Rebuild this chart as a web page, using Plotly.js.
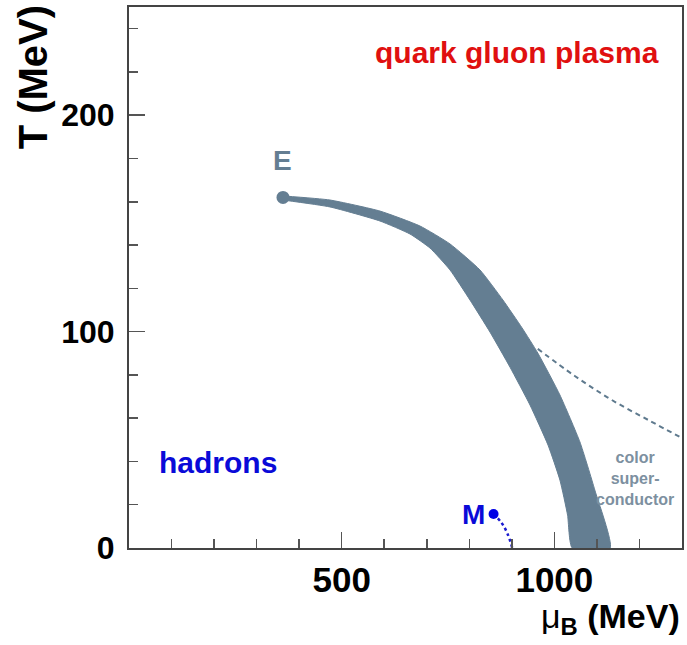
<!DOCTYPE html>
<html>
<head>
<meta charset="utf-8">
<script src="https://cdn.plot.ly/plotly-3.0.1.min.js"></script>
<style>html,body{margin:0;padding:0;background:#fff;}#chart{width:687px;height:645px;}</style>
</head>
<body>
<div id="chart"></div>
<script>
// crossover / first-order band: outer (upper-right) edge
const bandOuterMu = [362, 472.5, 590, 684, 754.6, 825, 879, 924, 961, 1013, 1060, 1095, 1131];
const bandOuterT  = [162.7, 160.8, 155.7, 148.8, 140.5, 128.5, 114.6, 101.7, 90.1, 70.7, 49, 26.8, 0];
// inner (lower-left) edge
const bandInnerMu = [362, 472.5, 590, 660.5, 707.6, 754.6, 801.6, 848.6, 895.6, 942.6, 985, 1013, 1031, 1042];
const bandInnerT  = [160.8, 157.6, 151.1, 145.1, 138.6, 128.5, 114.6, 99.8, 83.6, 66.1, 47.6, 31.4, 15.2, 0];
// critical end point E
const endPointMu = [362];
const endPointT  = [162];
// colour-superconductor boundary (dashed)
const cscMu = [961, 1048, 1135, 1225, 1300];
const cscT  = [92, 79.5, 68.4, 58.7, 50.8];
// nuclear matter liquid-gas line (dotted) with end point M
const lgMu = [857, 876, 890, 901];
const lgT  = [15.7, 11.6, 6.5, 0];
// axis ticks
const xTickVals = [500, 1000];
const xTickText = ['500', '1000'];
const yTickVals = [0, 100, 200];
const yTickText = ['0', '100', '200'];

const bandColor = '#647e92';
const FONT = 'Liberation Sans, Arial, Helvetica, sans-serif';

const bandX = bandOuterMu.concat(bandInnerMu.slice().reverse());
const bandY = bandOuterT.concat(bandInnerT.slice().reverse());

const traces = [
  {x: bandX, y: bandY, type: 'scatter', mode: 'lines', fill: 'toself',
   fillcolor: bandColor, line: {color: bandColor, width: 1, shape: 'spline', smoothing: 0.5},
   hoverinfo: 'skip'},
  {x: cscMu, y: cscT, type: 'scatter', mode: 'lines',
   line: {color: '#5f7a8e', width: 2, dash: '5px,4px', shape: 'spline'}, hoverinfo: 'skip'},
  {x: lgMu, y: lgT, type: 'scatter', mode: 'lines',
   line: {color: '#1a1ad0', width: 2.5, dash: 'dot', shape: 'spline'}, hoverinfo: 'skip'},
  {x: endPointMu, y: endPointT, type: 'scatter', mode: 'markers',
   marker: {color: bandColor, size: 13}, hoverinfo: 'skip'},
  {x: [lgMu[0]], y: [lgT[0]], type: 'scatter', mode: 'markers',
   marker: {color: '#0000e6', size: 10}, hoverinfo: 'skip'}
];

const axisCommon = {
  showgrid: false, zeroline: false, showline: true, mirror: true,
  linecolor: '#444', linewidth: 2,
  ticks: 'inside', ticklen: 16, tickwidth: 1.5, tickcolor: '#555',
  tickfont: {family: FONT, size: 32, color: '#000', weight: 'bold'},
  tickmode: 'array'
};

const layout = {
  width: 687, height: 645,
  margin: {l: 129, r: 5, t: 7, b: 97},
  paper_bgcolor: '#fff', plot_bgcolor: '#fff',
  showlegend: false,
  xaxis: Object.assign({}, axisCommon, {
    range: [0, 1300], tickvals: xTickVals, ticktext: xTickText,
    tickfont: {family: FONT, size: 35, color: '#000', weight: 'bold'},
    minor: {dtick: 100, tick0: 0, ticks: 'inside', ticklen: 9, tickwidth: 1.5, tickcolor: '#555'}
  }),
  yaxis: Object.assign({}, axisCommon, {
    range: [0, 250], tickvals: yTickVals, ticktext: yTickText,
    ticklabelstandoff: 6,
    minor: {dtick: 20, tick0: 0, ticks: 'inside', ticklen: 9, tickwidth: 1.5, tickcolor: '#555'}
  }),
  annotations: [
    {text: 'T (MeV)', xref: 'paper', yref: 'paper', x: -0.1736, y: 0.87,
     xanchor: 'center', yanchor: 'middle', textangle: -90, showarrow: false,
     font: {family: FONT, size: 40, color: '#000', weight: 'bold'}},
    {text: '<span style="font-weight:normal">μ</span><sub>B</sub> (MeV)', xref: 'paper', yref: 'paper', x: 1.0, y: -0.13,
     xanchor: 'right', yanchor: 'middle', showarrow: false,
     font: {family: FONT, size: 34, color: '#000', weight: 'bold'}},
    {text: 'quark gluon plasma', xref: 'x', yref: 'y', x: 913, y: 229,
     xanchor: 'center', yanchor: 'middle', showarrow: false,
     font: {family: FONT, size: 30, color: '#e01010', weight: 'bold'}},
    {text: 'hadrons', xref: 'x', yref: 'y', x: 209, y: 39.4,
     xanchor: 'center', yanchor: 'middle', showarrow: false,
     font: {family: FONT, size: 30, color: '#0a0ad8', weight: 'bold'}},
    {text: 'E', xref: 'x', yref: 'y', x: 361, y: 179,
     xanchor: 'center', yanchor: 'middle', showarrow: false,
     font: {family: FONT, size: 28, color: bandColor, weight: 'bold'}},
    {text: 'M', xref: 'x', yref: 'y', x: 810, y: 15.5,
     xanchor: 'center', yanchor: 'middle', showarrow: false,
     font: {family: FONT, size: 28, color: '#0a0ad8', weight: 'bold'}},
    {text: 'color<br>super-<br>conductor', xref: 'x', yref: 'y', x: 1190, y: 32,
     xanchor: 'center', yanchor: 'middle', showarrow: false, align: 'center',
     font: {family: FONT, size: 16, color: '#7d90a0', weight: 'bold'}}
  ]
};

Plotly.newPlot('chart', traces, layout, {displayModeBar: false, staticPlot: true});
</script>
</body>
</html>
